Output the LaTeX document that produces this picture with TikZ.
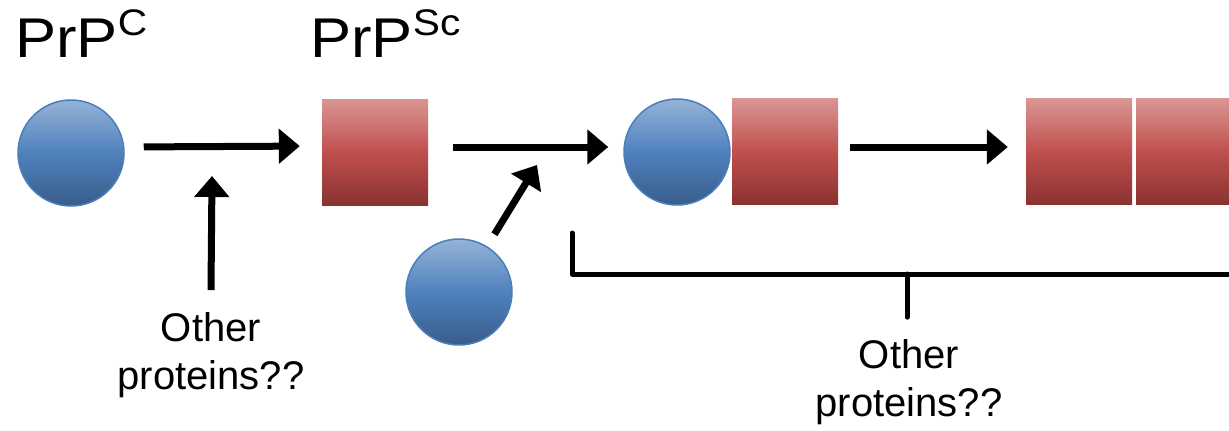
\documentclass[tikz,border=0pt]{standalone}
\usepackage{fontspec}
\setmainfont{Liberation Sans}
\usetikzlibrary{arrows.meta}
\definecolor{btop}{HTML}{95B3D7}
\definecolor{bmid}{HTML}{4F81BD}
\definecolor{bbot}{HTML}{385D8A}
\definecolor{bline}{HTML}{4A7EBB}
\definecolor{rtop}{HTML}{DA9694}
\definecolor{rmid}{HTML}{C0504D}
\definecolor{rbot}{HTML}{8A3230}
\newcommand{\prp}[1]{\scalebox{1.1}[1]{PrP\raisebox{22pt}{\fontsize{37}{37}\selectfont #1}}}
\tikzset{
  prot/.style={circle, minimum size=106pt, inner sep=0pt, draw=bline, line width=1.5pt,
    top color=btop, bottom color=bbot, middle color=bmid},
  scbox/.style={rectangle, minimum width=106pt, minimum height=106pt, inner sep=0pt,
    top color=rtop, bottom color=rbot, middle color=rmid},
  arr/.style={line width=7pt, -{Triangle[length=21pt,width=34pt]}},
  brk/.style={line width=5pt, line cap=round, line join=round},
  big/.style={inner sep=0pt, anchor=base west, font=\fontsize{56}{56}\selectfont},
  lbl/.style={inner sep=0pt, align=center, font=\fontsize{40}{48}\selectfont},
}
\begin{document}
\begin{tikzpicture}[x=1pt, y=-1pt]
\useasboundingbox (0,0) rectangle (1229,431);
% titles
\node[big] (t1) at (15,57) {\prp{C}};
\node[big] (t2) at (310,57) {\prp{Sc}};
% shapes
\node[prot] (c1) at (71,153) {};
\node[scbox] (s1) at (375,152) {};
\node[prot] (c2) at (459,292) {};
\node[prot] (c3) at (677,152) {};
\node[scbox] (s2) at (785,151.5) {};
\node[scbox] (s3) at (1079,151.5) {};
\node[scbox] (s4) at (1189,151.5) {};
% labels
\node[lbl] (o1) at (211,355) {Other\\proteins??};
\node[lbl] (o2) at (909,382) {Other\\proteins??};
% free ends
\coordinate (m1) at (212,176);
\coordinate (m2) at (537,165);
\coordinate (bk) at (572,274);
\coordinate (tk) at (907,274);
% main arrows
\draw[arr, shorten <=19pt, shorten >=22pt] ([yshift=6pt]c1.east) -- ([yshift=6pt]s1.west);
\draw[arr, shorten <=25pt, shorten >=15pt] ([yshift=5pt]s1.east) -- ([yshift=5pt]c3.west);
\draw[arr, shorten <=12pt, shorten >=18pt] ([yshift=4.5pt]s2.east) -- ([yshift=4.5pt]s3.west);
% side arrows
\draw[arr] ([yshift=22pt]o1.north) -- (m1);
\draw[arr, shorten <=14pt] (c2) -- (m2);
% bracket
\draw[brk] ([yshift=41pt]bk) -- (bk) -- ([xshift=20pt]bk -| s4.east);
\draw[brk] (tk) -- ([yshift=22pt]o2.north -| tk);
\end{tikzpicture}
\end{document}
